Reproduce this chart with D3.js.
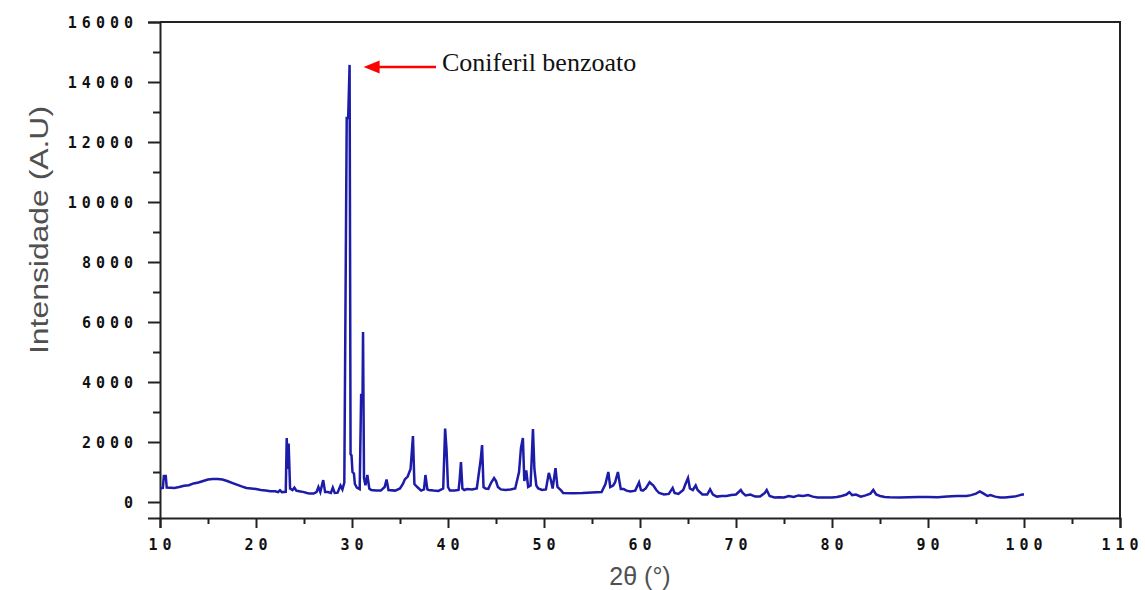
<!DOCTYPE html>
<html>
<head>
<meta charset="utf-8">
<script src="https://cdn.jsdelivr.net/npm/d3@7"></script>
<style>
  html, body { margin: 0; padding: 0; background: #fff; }
  svg { display: block; }
</style>
</head>
<body>
<svg id="chart" width="1145" height="590"></svg>
<script>
// ---- data ----
const twoTheta = [
  10.0,10.3,10.4,10.6,10.7,11.5,12.0,12.5,13.0,13.5,14.0,14.5,15.0,15.5,16.0,16.5,17.0,17.5,18.0,18.5,
  19.0,19.5,20.0,20.5,21.0,21.5,22.0,22.3,22.5,22.7,23.1,23.2,23.3,23.4,23.55,23.8,24.0,24.2,24.5,25.0,
  25.3,25.6,26.0,26.3,26.5,26.7,27.0,27.2,27.5,27.8,28.0,28.2,28.5,28.8,29.0,29.2,29.45,29.6,29.75,29.85,
  29.95,30.05,30.2,30.3,30.5,30.8,30.95,31.1,31.15,31.25,31.4,31.6,31.8,32.0,32.5,33.0,33.4,33.6,33.8,34.5,
  35.0,35.3,35.5,35.8,36.1,36.35,36.5,36.8,37.2,37.5,37.65,37.85,38.0,38.5,39.0,39.5,39.7,39.85,40.0,40.2,
  40.7,41.1,41.2,41.35,41.5,41.7,42.0,42.5,43.0,43.4,43.55,43.7,43.9,44.2,44.5,44.8,45.0,45.2,45.5,46.0,
  46.5,47.0,47.4,47.6,47.8,47.95,48.15,48.35,48.6,48.85,49.0,49.2,49.4,49.8,50.2,50.5,50.7,50.9,51.2,51.4,
  51.8,52.0,53.0,54.0,55.0,56.0,56.4,56.7,56.9,57.2,57.4,57.7,57.85,58.0,58.3,58.6,59.0,59.5,59.9,60.1,
  60.3,60.6,61.0,61.2,61.4,61.7,62.0,62.5,63.0,63.4,63.6,64.0,64.5,64.8,65.0,65.2,65.5,65.8,66.0,66.5,
  67.0,67.3,67.6,68.0,68.5,69.0,69.5,70.0,70.5,70.7,71.0,71.5,72.0,72.5,73.0,73.2,73.5,74.0,74.5,75.0,
  75.5,76.0,76.5,77.0,77.5,78.0,78.5,79.0,80.0,80.5,81.0,81.5,81.8,82.1,82.5,83.0,83.5,84.0,84.3,84.6,
  85.0,85.5,86.0,87.0,88.0,89.0,90.0,91.0,92.0,93.0,94.0,94.5,95.0,95.4,95.8,96.2,96.5,97.0,97.5,98.0,
  99.0,99.5,99.8,100.0
];
const intensity = [
  460,470,870,870,480,470,500,540,560,620,650,700,750,770,770,750,700,640,580,520,
  470,450,430,400,380,360,360,330,390,330,340,2130,1100,1950,450,400,480,380,360,330,
  300,280,280,330,500,330,730,330,330,300,480,300,310,550,420,650,12800,12800,14570,1600,
  1550,1000,950,600,480,430,3570,3570,5670,800,560,900,450,400,380,380,500,750,400,380,
  450,600,750,850,1100,2200,600,500,380,420,900,420,400,380,370,450,2450,1730,500,380,
  380,400,700,1330,450,400,430,420,450,1400,1900,500,450,440,650,800,700,500,420,400,
  420,450,1000,1800,2130,700,1050,500,550,2430,1100,550,450,400,420,970,750,450,1130,500,
  380,300,290,300,320,330,600,1000,500,550,650,1000,700,430,430,380,350,380,650,400,
  380,450,660,600,550,400,300,250,270,470,300,270,400,650,800,450,400,550,400,250,
  250,420,250,180,200,200,230,250,400,300,220,250,180,180,300,400,200,150,160,150,
  200,170,220,200,230,180,150,150,150,170,200,250,330,230,250,180,220,280,400,250,
  200,170,160,150,160,170,170,160,180,200,200,230,280,350,280,200,230,180,150,150,
  180,220,250,250
];
const xTickValues = [10,20,30,40,50,60,70,80,90,100,110];
const xMinorTicks = [15,25,35,45,55,65,75,85,95,105];
const yTickValues = [0,2000,4000,6000,8000,10000,12000,14000,16000];
const yMinorTicks = [1000,3000,5000,7000,9000,11000,13000,15000];
const xTitle = "2θ (°)";
const yTitle = "Intensidade (A.U)";
const annotationLabel = "Coniferil benzoato";
const annotationPeak = [29.75, 14570];

// ---- layout ----
const svg = d3.select("#chart");
const mLeft = 160, mRight = 1120, mTop = 22, mBottom = 518;

const x = d3.scaleLinear().domain([10, 110]).range([mLeft, mRight]);
const y = d3.scaleLinear().domain([-533, 16000]).range([mBottom, mTop]);

const tickFont = "'DejaVu Sans Mono', monospace";
const tickSpacing = 5;

// frame (top and right)
svg.append("path")
  .attr("d", `M${mLeft},${mTop}H${mRight}V${mBottom}`)
  .attr("fill", "none").attr("stroke", "#222").attr("stroke-width", 2);

// x axis
const xAxis = svg.append("g").attr("transform", `translate(0,${mBottom})`);
xAxis.call(d3.axisBottom(x).tickValues(xTickValues).tickSize(10).tickFormat(""))
  .call(g => g.select(".domain").attr("stroke", "#222").attr("stroke-width", 2))
  .call(g => g.selectAll(".tick line").attr("stroke", "#222").attr("stroke-width", 2));
xAxis.append("g").call(d3.axisBottom(x).tickValues(xMinorTicks).tickSize(6).tickFormat(""))
  .call(g => g.select(".domain").remove())
  .call(g => g.selectAll(".tick line").attr("stroke", "#222").attr("stroke-width", 2));
svg.append("g").selectAll("text").data(xTickValues).join("text")
  .attr("x", d => x(d) + tickSpacing / 2)
  .attr("y", 550)
  .attr("text-anchor", "middle")
  .attr("font-family", tickFont).attr("font-weight", "bold")
  .attr("font-size", 15).attr("letter-spacing", tickSpacing)
  .attr("fill", "#111")
  .text(d => d);

// y axis
const yAxis = svg.append("g").attr("transform", `translate(${mLeft},0)`);
yAxis.call(d3.axisLeft(y).tickValues(yTickValues).tickSize(12).tickFormat(""))
  .call(g => g.select(".domain").attr("stroke", "#222").attr("stroke-width", 2))
  .call(g => g.selectAll(".tick line").attr("stroke", "#222").attr("stroke-width", 2));
yAxis.append("g").call(d3.axisLeft(y).tickValues(yMinorTicks).tickSize(7).tickFormat(""))
  .call(g => g.select(".domain").remove())
  .call(g => g.selectAll(".tick line").attr("stroke", "#222").attr("stroke-width", 2));
svg.append("g").selectAll("text").data(yTickValues).join("text")
  .attr("x", 133 + tickSpacing)
  .attr("y", d => y(d) + 5.5)
  .attr("text-anchor", "end")
  .attr("font-family", tickFont).attr("font-weight", "bold")
  .attr("font-size", 15).attr("letter-spacing", tickSpacing)
  .attr("fill", "#111")
  .text(d => d);

// axis titles
svg.append("text")
  .attr("transform", `translate(48,${230}) rotate(-90)`)
  .attr("text-anchor", "middle")
  .attr("font-family", "'Liberation Sans', Arial, sans-serif")
  .attr("font-size", 26).attr("fill", "#505050")
  .attr("textLength", 248).attr("lengthAdjust", "spacingAndGlyphs")
  .text(yTitle);
svg.append("text")
  .attr("x", 640).attr("y", 585)
  .attr("text-anchor", "middle")
  .attr("font-family", "'Liberation Sans', Arial, sans-serif")
  .attr("font-size", 25).attr("fill", "#505050")
  .text(xTitle);

// data line
const pts = twoTheta.map((t, i) => [t, intensity[i]]);
svg.append("path")
  .datum(pts)
  .attr("fill", "none")
  .attr("stroke", "#1c1ca8")
  .attr("stroke-width", 2.5)
  .attr("stroke-linejoin", "miter")
  .attr("d", d3.line().x(d => x(d[0])).y(d => y(d[1])));

// annotation
const tipX = x(annotationPeak[0]) + 14;
const tipY = 67;
svg.append("line")
  .attr("x1", 436).attr("y1", tipY).attr("x2", tipX + 14).attr("y2", tipY)
  .attr("stroke", "#ff0000").attr("stroke-width", 2.5);
svg.append("path")
  .attr("d", `M${tipX},${tipY}L${tipX + 16},${tipY - 6.5}L${tipX + 16},${tipY + 6.5}Z`)
  .attr("fill", "#ff0000");
svg.append("text")
  .attr("x", 442).attr("y", 71)
  .attr("font-family", "'Liberation Serif', 'Times New Roman', serif")
  .attr("font-size", 26).attr("fill", "#111")
  .text(annotationLabel);
</script>
</body>
</html>
